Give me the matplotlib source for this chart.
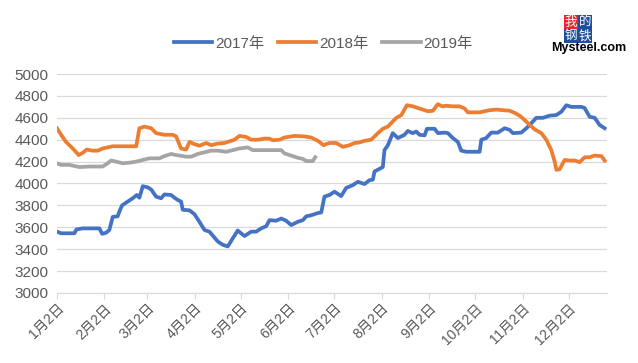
import matplotlib
matplotlib.use("Agg")
import matplotlib.pyplot as plt

plt.rcParams['font.family'] = ['Liberation Sans', 'Noto Sans CJK SC', 'DejaVu Sans']

# x = days after Jan 2
x2017 = [0, 2.7, 11.4, 12.7, 16.8, 27.7, 29.5, 32, 34.2, 36.4, 39.6, 41.2, 42.5, 46.2, 49.4, 52.1, 53.8,
         56, 59.2, 61.5, 64.7, 68, 70.1, 74.5, 76.7, 78.8, 81, 82.1, 86.5, 89.7, 93, 96.3, 99.5, 105,
         108.2, 111.5, 114.8, 118, 122.4, 126.8, 130, 133.3, 136.6, 138.7, 143.1, 146.4, 149.6, 152.9,
         157.2, 160.5, 162.7, 166, 170.3, 172.5, 174.6, 177.9, 181.2, 185.5, 188.8, 193.1, 196.4, 200.8,
         204, 206.2, 207.3, 212.7, 213.8, 216, 219.2, 222.5, 226.9, 229, 232.3, 234.5, 236.7, 240,
         241.5, 246.5, 248.7, 253, 255.2, 258.4, 261.7, 263.9, 267.2, 275.9, 277, 280.2, 283.5, 287.8,
         292.2, 295.5, 297.6, 303.1, 306.4, 309.6, 312.9, 317.2, 321.6, 325.9, 329.2, 332.5, 335.8,
         342.3, 344.4, 347.7, 351, 354.2, 357.5]
y2017 = [3560, 3545, 3545, 3580, 3590, 3590, 3540, 3550, 3575, 3695, 3700, 3760, 3800, 3835, 3865, 3895, 3870,
         3975, 3965, 3945, 3880, 3865, 3900, 3895, 3870, 3850, 3835, 3760, 3755, 3720, 3650, 3575, 3560, 3470,
         3440, 3425, 3500, 3570, 3520, 3560, 3560, 3590, 3610, 3665, 3660, 3680, 3660, 3620,
         3650, 3665, 3700, 3710, 3730, 3735, 3880, 3895, 3925, 3885, 3960, 3985, 4015, 3995,
         4030, 4035, 4110, 4150, 4305, 4350, 4460, 4415, 4445, 4480, 4460, 4475, 4445, 4440,
         4500, 4500, 4460, 4465, 4460, 4415, 4380, 4300, 4290, 4290, 4400, 4415, 4465, 4465,
         4505, 4490, 4460, 4465, 4505, 4550, 4600, 4600, 4620, 4625, 4655, 4715, 4700,
         4700, 4690, 4610, 4600, 4535, 4505]

x2018 = [0, 2.7, 5.9, 10.3, 14.2, 16.8, 19.4, 23.3, 26.6, 29.8, 33.1, 36.4, 51.7, 53.8, 57.1, 61.5, 64.7,
         70.1, 75.6, 77.8, 81, 84.3, 86.5, 89.7, 93, 97.4, 100.7, 105, 109.3, 111.5, 115.9, 119.1,
         123.5, 126.8, 131.1, 135.5, 138.7, 140.9, 145.3, 148.5, 155.1, 161.6, 166, 170.3, 174, 175.7,
         177.9, 182.3, 186.6, 191, 194.2, 197.5, 200.8, 205.1, 209.5, 212.7, 216, 221.5, 224.8, 228.4,
         232.3, 236.7, 242.1, 245.4, 248.6, 251.5, 254.1, 258.4, 262.8, 266.1, 268.2, 275.9, 279.2,
         282.4, 286.8, 295.5, 298.8, 302, 305.3, 308.6, 311.8, 316.2, 319.4, 322.7, 324.9, 326, 328.1,
         331.4, 334.7, 338, 341.2, 344.5, 347.7, 351, 355.4, 357.5]
y2018 = [4505, 4445, 4380, 4320, 4260, 4280, 4310, 4300, 4300, 4320, 4330, 4340, 4340, 4505, 4520, 4505, 4460,
         4445, 4445, 4430, 4320, 4310, 4380, 4360, 4345, 4370, 4350, 4365, 4370, 4380, 4400, 4435,
         4425, 4400, 4400, 4410, 4410, 4395, 4400, 4420, 4435, 4430, 4420, 4390, 4350, 4360,
         4370, 4370, 4335, 4350, 4370, 4375, 4390, 4400, 4460, 4500, 4520, 4600, 4625, 4715,
         4705, 4685, 4660, 4665, 4725, 4705, 4710, 4705, 4705, 4685, 4650, 4650, 4660,
         4670, 4675, 4665, 4645, 4620, 4580, 4535, 4495, 4460, 4400, 4305, 4200, 4125, 4130,
         4215, 4210, 4210, 4195, 4240, 4240, 4255, 4250, 4210]

x2019 = [0, 2.7, 8.1, 14.6, 21.2, 29.8, 33.1, 35.3, 38.6, 42.9, 47.3, 51.7, 56, 60.4, 66.9, 70.1, 74.5,
         77.8, 84.3, 87.6, 91.9, 96.3, 100.6, 105, 110.4, 114.8, 119.1, 124.5, 127.8, 133.3, 146.4,
         148.5, 152.9, 157.2, 160.5, 162.7, 167, 168.6]
y2019 = [4185, 4170, 4170, 4150, 4155, 4155, 4185, 4210, 4200, 4185, 4190, 4200, 4215, 4230, 4230, 4250, 4270,
         4260, 4245, 4245, 4270, 4285, 4300, 4300, 4290, 4305, 4320, 4330, 4305, 4305, 4305,
         4275, 4255, 4235, 4225, 4205, 4205, 4240]

tick_days = [0, 31, 59, 90, 120, 151, 181, 212, 243, 273, 304, 334]
tick_labels = ["1月2日", "2月2日", "3月2日", "4月2日", "5月2日", "6月2日",
               "7月2日", "8月2日", "9月2日", "10月2日", "11月2日", "12月2日"]

fig = plt.figure(figsize=(6.38, 3.63), dpi=100)
ax = fig.add_axes([0.0893, 0.193, 0.862, 0.603])

ax.plot(x2017, y2017, color="#4472C4", lw=2.7, label="2017年", solid_joinstyle="round")
ax.plot(x2018, y2018, color="#ED7D31", lw=2.7, label="2018年", solid_joinstyle="round")
ax.plot(x2019, y2019, color="#A5A5A5", lw=2.7, label="2019年", solid_joinstyle="round")

ax.set_xlim(0, 359)
ax.set_ylim(3000, 5000)
ax.set_yticks(range(3000, 5001, 200))
ax.set_xticks(tick_days)
ax.set_xticklabels(tick_labels, rotation=45, ha="right", rotation_mode="anchor")
ax.grid(axis="y", color="#d9d9d9", lw=0.9)
ax.set_axisbelow(True)
for s in ["top", "right", "left"]:
    ax.spines[s].set_visible(False)
ax.spines["bottom"].set_color("#d9d9d9")
ax.tick_params(axis="y", length=0, labelsize=11, labelcolor="#595959", pad=6)
ax.tick_params(axis="x", length=4, color="#d9d9d9", labelsize=10, labelcolor="#595959", pad=2)

fig.legend(loc="center", bbox_to_anchor=(0.507, 0.88), ncol=3, frameon=False,
           fontsize=11, handlelength=2.5, handletextpad=0.2, columnspacing=0.9,
           labelcolor="#595959")

# logo
logo = [("我", 571, 22, "#e8262b"), ("的", 585, 22, "#1f4e9c"),
        ("钢", 571, 36, "#1f4e9c"), ("铁", 585, 36, "#1f4e9c")]
for ch, px, py, bg in logo:
    fig.text(px / 638, 1 - py / 363, ch, color="white", fontsize=9, ha="center", va="center",
             family="Noto Sans CJK SC", bbox=dict(boxstyle="square,pad=0.05", fc=bg, ec="none"))
fig.text(589 / 638, 1 - 48 / 363, "Mysteel.com", color="black", fontsize=9, fontweight="bold",
         ha="center", va="center")

fig.savefig("out.png", dpi=100)
